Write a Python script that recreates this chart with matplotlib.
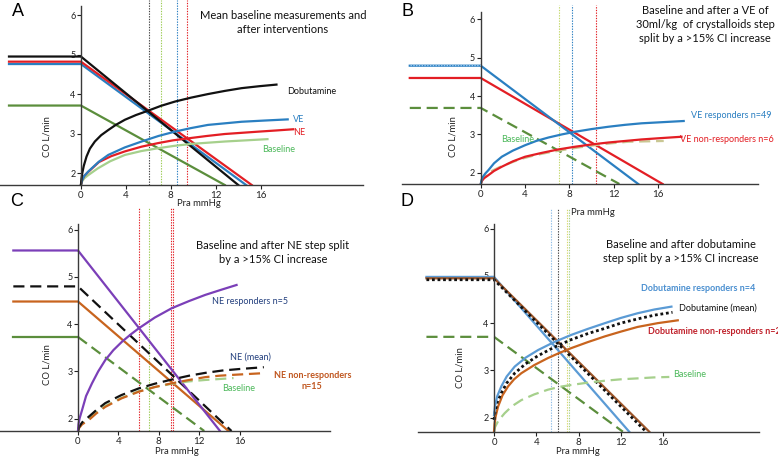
import matplotlib
matplotlib.use("Agg")
import matplotlib.pyplot as plt

plt.rcParams['font.family'] = ['Lato', 'DejaVu Sans']

# ---------------- data ----------------
# venous return lines: plateau CO, x where the line meets the x axis
X_LEFT = -6.4

# Panel A - mean values
a_vr_names = ['Dobutamine', 'NE', 'VE', 'Baseline']
a_vr_plateau = [4.95, 4.82, 4.76, 3.71]
a_vr_xend = [14.0, 15.2, 14.7, 12.8]

a_dobu_x = [0, 0.05, 0.12, 0.25, 0.5, 0.8, 1.24, 1.8, 2.43, 3.1, 3.91, 4.9, 5.98, 7.1,
            8.36, 9.8, 11.3, 12.8, 14.3, 15.9, 17.4]
a_dobu_y = [1.70, 1.86, 2.0, 2.18, 2.42, 2.62, 2.80, 2.96, 3.09, 3.22, 3.35, 3.47, 3.58, 3.70,
            3.81, 3.91, 4.0, 4.08, 4.15, 4.20, 4.24]
a_ve_x = [0, 0.1, 0.3, 0.65, 1.6, 2.43, 3.9, 5.4, 6.9, 8.36, 9.8, 11.3, 12.8, 14.3, 16.3, 18.4]
a_ve_y = [1.70, 1.82, 1.93, 2.04, 2.29, 2.46, 2.65, 2.80, 2.94, 3.05, 3.14, 3.22, 3.26, 3.30, 3.33, 3.36]
a_ne_x = [0, 0.1, 0.3, 0.65, 1.6, 2.7, 3.91, 5.4, 6.87, 8.2, 9.54, 11.2, 12.8, 14.3, 15.8, 17.4, 18.9]
a_ne_y = [1.70, 1.82, 1.93, 2.03, 2.28, 2.43, 2.55, 2.67, 2.76, 2.83, 2.88, 2.94, 2.99, 3.02, 3.05,
          3.08, 3.11]
a_base_x = [0, 0.1, 0.3, 0.65, 1.5, 2.6, 3.91, 5.4, 6.87, 8.3, 9.84, 11.3, 12.8, 14.7, 16.6]
a_base_y = [1.70, 1.79, 1.87, 1.95, 2.12, 2.30, 2.46, 2.56, 2.63, 2.69, 2.74, 2.77, 2.80, 2.83, 2.86]
a_pra = [6.04, 7.11, 8.53, 9.42]

# Panel B - volume expansion
b_vr_plateau = [4.79, 4.47, 3.69]   # responders, non-responders, baseline
b_vr_xend = [14.2, 16.4, 12.5]
b_resp_x = [0, 0.08, 0.2, 0.4, 0.69, 1.2, 1.9, 2.9, 4.0, 5.0, 6.1, 7.3, 8.5, 10.0, 11.5, 13.0,
            14.5, 16.4, 18.3]
b_resp_y = [1.71, 1.82, 1.9, 1.98, 2.07, 2.25, 2.42, 2.58, 2.72, 2.83, 2.92, 3.00, 3.07, 3.14,
            3.20, 3.25, 3.29, 3.32, 3.35]
b_non_x = [0, 0.1, 0.3, 0.69, 1.2, 1.9, 2.9, 4.0, 5.5, 7.0, 8.5, 10.0, 11.5, 13.0, 14.5, 16.0, 18.1]
b_non_y = [1.71, 1.79, 1.86, 1.94, 2.05, 2.16, 2.30, 2.42, 2.52, 2.61, 2.68, 2.74, 2.79, 2.83,
           2.87, 2.90, 2.94]
b_base_x = [0, 0.1, 0.4, 0.99, 1.7, 2.5, 3.6, 4.9, 6.1, 7.3, 8.8, 10.3, 11.8, 13.3, 14.9, 16.5]
b_base_y = [1.71, 1.80, 1.92, 2.05, 2.15, 2.24, 2.36, 2.46, 2.53, 2.59, 2.66, 2.72, 2.77, 2.81,
            2.82, 2.83]
b_pra = [7.07, 8.27, 10.4]

# Panel C - norepinephrine
c_vr_plateau = [5.56, 4.80, 4.48, 3.73]   # responders, mean, non-responders, baseline
c_vr_xend = [14.06, 15.2, 14.9, 12.5]
c_resp_x = [0, 0.05, 0.15, 0.4, 0.8, 1.39, 2.0, 2.7, 3.5, 4.36, 5.2, 6.0, 7.6, 9.3, 11.0, 12.6,
            14.2, 15.7]
c_resp_y = [1.74, 1.88, 2.0, 2.18, 2.48, 2.75, 3.0, 3.24, 3.45, 3.63, 3.78, 3.91, 4.14, 4.34,
            4.49, 4.62, 4.73, 4.83]
c_mean_x = [0, 0.1, 0.4, 1.06, 1.8, 2.7, 4.3, 6.0, 7.6, 9.3, 11.0, 12.6, 14.3, 15.9, 18.4]
c_mean_y = [1.74, 1.82, 1.92, 2.04, 2.18, 2.33, 2.50, 2.64, 2.74, 2.83, 2.91, 2.97, 3.02, 3.05, 3.09]
c_non_x = [0, 0.1, 0.4, 1.06, 1.8, 2.7, 4.3, 6.0, 7.6, 9.3, 11.0, 12.6, 14.0, 15.5, 18.05]
c_non_y = [1.74, 1.80, 1.88, 1.97, 2.11, 2.25, 2.43, 2.57, 2.67, 2.75, 2.82, 2.88, 2.91, 2.93, 2.96]
c_base_x = [0, 0.1, 0.4, 1.06, 1.8, 2.7, 4.3, 6.0, 7.6, 9.3, 11.0, 12.6, 14.0, 15.4]
c_base_y = [1.74, 1.81, 1.90, 2.0, 2.14, 2.27, 2.44, 2.58, 2.67, 2.74, 2.79, 2.82, 2.84, 2.86]
c_pra = [6.0, 7.06, 9.18, 9.37]

# Panel D - dobutamine
d_vr_plateau = [4.98, 4.92, 4.95, 3.71]   # responders, mean, non-responders, baseline
d_vr_xend = [12.8, 14.4, 14.7, 12.2]
d_resp_x = [0, 0.1, 0.3, 0.69, 1.2, 1.96, 3.0, 4.17, 5.7, 7.3, 8.9, 10.5, 12.0, 13.6, 15.2, 16.8]
d_resp_y = [2.05, 2.25, 2.45, 2.66, 2.87, 3.08, 3.27, 3.43, 3.60, 3.75, 3.88, 4.0, 4.11, 4.21,
            4.29, 4.35]
d_mean_x = [0, 0.1, 0.3, 0.69, 1.2, 1.96, 3.0, 4.17, 5.7, 7.3, 8.9, 10.5, 12.0, 13.6, 15.2, 16.9]
d_mean_y = [1.95, 2.12, 2.32, 2.52, 2.73, 2.94, 3.14, 3.31, 3.49, 3.65, 3.78, 3.89, 4.0, 4.09,
            4.17, 4.23]
d_non_x = [0, 0.05, 0.15, 0.38, 0.8, 1.33, 1.9, 2.59, 3.8, 5.1, 6.2, 7.3, 8.9, 10.5, 12.0, 13.6,
           15.5, 17.4]
d_non_y = [1.70, 1.86, 2.02, 2.23, 2.47, 2.66, 2.81, 2.94, 3.11, 3.26, 3.37, 3.47, 3.60, 3.72,
           3.82, 3.92, 4.0, 4.06]
d_base_x = [0, 0.1, 0.4, 1.0, 1.7, 2.59, 3.8, 5.1, 6.2, 7.3, 8.9, 10.5, 12.0, 13.6, 15.1, 16.6]
d_base_y = [1.70, 1.80, 1.93, 2.09, 2.24, 2.37, 2.49, 2.59, 2.65, 2.69, 2.74, 2.78, 2.81, 2.83,
            2.85, 2.86]
d_pra = [5.40, 6.03, 6.88, 7.10]

x_ticks = [0, 4, 8, 12, 16]
y_ticks = [2, 3, 4, 5, 6]

# colours
BLACK = '#111111'
RED = '#e31e24'
BLUE = '#2a7fc1'
DGREEN = '#5b8e3c'
LGREEN = '#a6d08c'
PURPLE = '#7b3fb8'
ORANGE = '#c8641e'
BROWN = '#9c5529'
LBLUE = '#5b9bd5'
TXTGREEN = '#4cb85a'
NAVY = '#24407e'

W, H = 778, 457
fig = plt.figure(figsize=(W / 100, H / 100), dpi=100)


def panel(box, xlim, ylim, spine_top):
    l, r, b, t = box
    ax = fig.add_axes([l / W, 1 - b / H, (r - l) / W, (b - t) / H])
    ax.patch.set_alpha(0)
    ax.set_xlim(xlim)
    ax.set_ylim(ylim)
    for s in ['top', 'right']:
        ax.spines[s].set_visible(False)
    ax.spines['left'].set_position(('data', 0))
    ax.spines['left'].set_bounds(ylim[0], spine_top)
    for s in ['left', 'bottom']:
        ax.spines[s].set_color('#3a3a3a')
        ax.spines[s].set_linewidth(1.0)
    ax.set_xticks(x_ticks)
    ax.set_yticks(y_ticks)
    ax.tick_params(axis='x', length=3, width=0.8, pad=1.5, labelsize=7, colors='#222222')
    ax.tick_params(axis='y', length=3, width=0.8, pad=1, labelsize=6.5, colors='#222222')
    return ax


def curve(ax, x, y, color, ls='-', lw=1.6):
    ax.plot(x, y, color=color, ls=ls, lw=lw, solid_joinstyle='round',
            dash_joinstyle='round')


def vr(ax, plateau, xend, color, ls='-', lw=1.6):
    ymin = ax.get_ylim()[0]
    ax.plot([X_LEFT, 0, xend], [plateau, plateau, ymin], color=color, ls=ls, lw=lw)


def vlines(ax, xs, colors):
    for x, c in zip(xs, colors):
        ax.axvline(x, color=c, lw=0.8, ls=(0, (1.2, 1.2)), zorder=1)


def ftext(x, y, s, **kw):
    fig.text(x / W, 1 - y / H, s, **kw)


DASH = (0, (5, 2.6))
DOTS = (0, (1, 1))

# ---------------- A ----------------
axA = panel((0, 363, 185, 0), (-7.2, 25.1), (1.70, 6.38), 6.22)
vlines(axA, a_pra, ['#444444', '#9ccc54', BLUE, RED])
vr(axA, a_vr_plateau[3], a_vr_xend[3], DGREEN)
vr(axA, a_vr_plateau[2], a_vr_xend[2], BLUE)
vr(axA, a_vr_plateau[1], a_vr_xend[1], RED)
vr(axA, a_vr_plateau[0], a_vr_xend[0], BLACK)
curve(axA, a_base_x, a_base_y, LGREEN)
curve(axA, a_ne_x, a_ne_y, RED)
curve(axA, a_ve_x, a_ve_y, BLUE)
curve(axA, a_dobu_x, a_dobu_y, BLACK)

# ---------------- B ----------------
axB = panel((402, 758, 184, 5), (-7.1, 25.0), (1.71, 6.37), 6.19)
vlines(axB, b_pra, ['#c2d86a', BLUE, RED])
vr(axB, b_vr_plateau[2], b_vr_xend[2], DGREEN, ls=DASH)
vr(axB, b_vr_plateau[1], b_vr_xend[1], RED)
vr(axB, b_vr_plateau[0], b_vr_xend[0], BLUE)
axB.plot([X_LEFT, 0], [b_vr_plateau[0] + 0.03] * 2, color='#9cc8ee', lw=1.0, ls=DOTS)
curve(axB, b_base_x, b_base_y, '#c9c793', ls=DASH)
curve(axB, b_non_x, b_non_y, RED)
curve(axB, b_resp_x, b_resp_y, BLUE)

# ---------------- C ----------------
axC = panel((0, 330, 431, 207), (-7.72, 24.95), (1.74, 6.48), 6.12)
vlines(axC, c_pra, [RED, '#9ccc54', RED, RED])
axC.plot([X_LEFT, 0], [c_vr_plateau[3]] * 2, color=DGREEN, lw=1.6)
axC.plot([0, c_vr_xend[3]], [c_vr_plateau[3], axC.get_ylim()[0]], color=DGREEN, lw=1.6, ls=DASH)
vr(axC, c_vr_plateau[2], c_vr_xend[2], ORANGE)
vr(axC, c_vr_plateau[1], c_vr_xend[1], BLACK, ls=DASH)
vr(axC, c_vr_plateau[0], c_vr_xend[0], PURPLE)
curve(axC, c_base_x, c_base_y, LGREEN, ls=DASH)
curve(axC, c_non_x, c_non_y, ORANGE, ls=DASH)
curve(axC, c_mean_x, c_mean_y, BLACK, ls=DASH)
curve(axC, c_resp_x, c_resp_y, PURPLE)

# ---------------- D ----------------
axD = panel((418.3, 759.3, 431.7, 208), (-7.17, 25.12), (1.70, 6.44), 6.1)
vlines(axD, d_pra, ['#8fbde6', '#444444', '#d6d86a', '#a6d08c'])
vr(axD, d_vr_plateau[3], d_vr_xend[3], DGREEN, ls=DASH)
vr(axD, d_vr_plateau[0], d_vr_xend[0], LBLUE)
vr(axD, d_vr_plateau[2], d_vr_xend[2], BROWN)
vr(axD, d_vr_plateau[1], d_vr_xend[1], BLACK, ls=DOTS, lw=2.0)
curve(axD, d_base_x, d_base_y, LGREEN, ls=DASH)
curve(axD, d_non_x, d_non_y, ORANGE)
curve(axD, d_mean_x, d_mean_y, BLACK, ls=DOTS, lw=2.0)
curve(axD, d_resp_x, d_resp_y, LBLUE)

# ---------------- texts ----------------
for s, x, y in [('A', 17.5, 12), ('B', 407.5, 12), ('C', 17, 202), ('D', 407.5, 202)]:
    ftext(x, y, s, fontsize=13, family='Liberation Sans', ha='center', va='center')

tkw = dict(fontsize=8, ha='center', va='center', linespacing=1.3, color='#111111')
ftext(283, 22.5, 'Mean baseline measurements and\nafter interventions', **tkw)
ftext(705, 24.5, 'Baseline and after a VE of\n30ml/kg  of crystalloids step\nsplit by a >15% CI increase', **tkw)
ftext(272.7, 252.2, 'Baseline and after NE step split\nby a >15% CI increase', **tkw)
ftext(681, 251.3, 'Baseline and after dobutamine\nstep split by a >15% CI increase', **tkw)

lkw = dict(fontsize=6.8, ha='center', va='center', color='#222222')
for x, y in [(199, 204), (592.4, 212.5), (176.7, 451.5), (578.3, 451.5)]:
    ftext(x, y, 'Pra mmHg', **lkw)
for x, y in [(47, 137), (453, 137), (46.7, 364.7), (460, 368)]:
    ftext(x, y, 'CO L/min', rotation=90, **lkw)

skw = dict(fontsize=6.5, ha='center', va='center')
ftext(312, 91, 'Dobutamine', color=BLACK, **skw)
ftext(299, 120, 'VE', color=BLUE, **skw)
ftext(299, 132, 'NE', color=RED, **skw)
ftext(279, 150, 'Baseline', color=TXTGREEN, **skw)

ftext(731.7, 115, 'VE responders n=49', color=BLUE, **skw)
ftext(727, 140, 'VE non-responders n=6', color=RED, **skw)
ftext(518, 140, 'Baseline', color=TXTGREEN, **skw)

ftext(250, 302, 'NE responders n=5', color=NAVY, **skw)
ftext(250, 357.3, 'NE (mean)', color=NAVY, **skw)
ftext(312.3, 381, 'NE non-responders\nn=15', color='#c0561f', fontweight='bold',
      linespacing=1.4, fontsize=6.5, ha='center', va='center')
ftext(238.3, 388.7, 'Baseline', color=TXTGREEN, **skw)

ftext(698.3, 288.7, 'Dobutamine responders n=4', color='#4a8fd0', fontweight='bold',
      fontsize=6.5, ha='center', va='center')
ftext(718.3, 308, 'Dobutamine (mean)', color=BLACK, **skw)
ftext(647.7, 332, 'Dobutamine non-responders n=2', color='#c0202a', fontweight='bold',
      fontsize=6.5, ha='left', va='center')
ftext(690, 374.7, 'Baseline', color=TXTGREEN, **skw)

fig.savefig('out.png', dpi=100)
